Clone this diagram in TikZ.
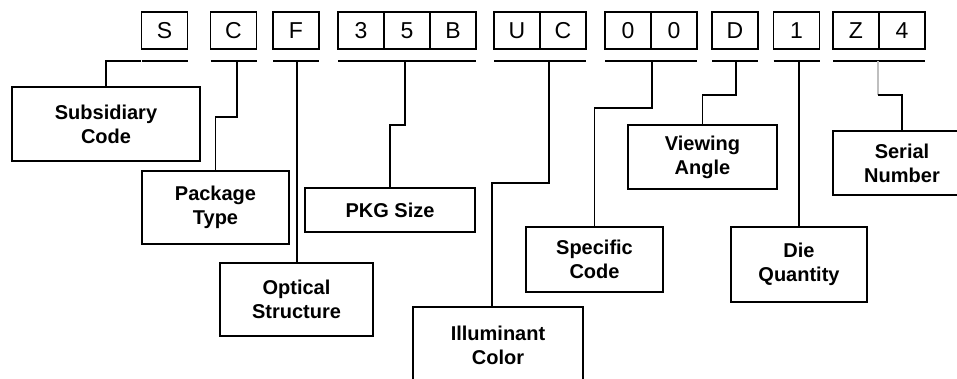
\documentclass[tikz,border=0pt]{standalone}
\usepackage{fontspec}
\setmainfont{Liberation Sans}
\usetikzlibrary{positioning}
\tikzstyle{codebox} = [draw, line width=1.1pt, outer sep=0pt, inner sep=0pt, minimum width=46pt, minimum height=37pt, text height=16.5pt, text depth=0pt, font=\fontsize{23}{23}\selectfont]
\tikzstyle{fieldbox} = [draw, line width=1.1pt, align=center, inner sep=0pt, font=\bfseries\fontsize{20}{24}\selectfont]
\tikzstyle{bar} = [line width=1.5pt]
\tikzstyle{wire} = [line width=1.1pt]
\begin{document}
\begin{tikzpicture}[x=1pt,y=-1pt]
\useasboundingbox (0,0) rectangle (957,378);
\clip (0,0) rectangle (957,378);
\node[codebox] (s) at (164.5,30.5) {S};
\node[codebox] (c) at (233.5,30.5) {C};
\node[codebox] (f) at (296,30.5) {F};
\node[codebox] (n3) at (361,30.5) {3};
\node[codebox, right=0pt of n3] (n5) {5};
\node[codebox, right=0pt of n5] (nB) {B};
\node[codebox] (u) at (517,30.5) {U};
\node[codebox, right=0pt of u] (uc) {C};
\node[codebox] (z1) at (628,30.5) {0};
\node[codebox, right=0pt of z1] (z2) {0};
\node[codebox] (d) at (735,30.5) {D};
\node[codebox] (one) at (796.5,30.5) {1};
\node[codebox] (z) at (856,30.5) {Z};
\node[codebox, right=0pt of z] (four) {4};
\foreach \a/\b in {s/s, c/c, f/f, n3/nB, u/uc, z1/z2, d/d, one/one, z/four}
  \draw[bar] ([yshift=-12pt]\a.south west) -- ([yshift=-12pt]\b.south east);
\coordinate (pS) at (141,61);
\coordinate (pC) at (237,61);
\coordinate (pF) at (297,61);
\coordinate (pN) at (405,61);
\coordinate (pU) at (549,61);
\coordinate (pZ) at (652,61);
\coordinate (pD) at (736,61);
\coordinate (pO) at (799,61);
\coordinate (pL) at (878,61);
\coordinate (jL) at (878,95);
\node[fieldbox, minimum width=188pt, minimum height=74pt] (sub) at (106,124) {Subsidiary\\Code};
\node[fieldbox, minimum width=147pt, minimum height=73pt] (pkg) at (215.5,207.5) {Package\\Type};
\node[fieldbox, minimum width=153pt, minimum height=73pt] (opt) at (296.5,299.5) {Optical\\Structure};
\node[fieldbox, minimum width=170pt, minimum height=44pt] (size) at (390,210) {PKG Size};
\node[fieldbox, minimum width=170pt, minimum height=76pt] (ill) at (498,345) {Illuminant\\Color};
\node[fieldbox, minimum width=137pt, minimum height=65pt] (spec) at (594.5,259.5) {Specific\\Code};
\node[fieldbox, minimum width=149pt, minimum height=64pt] (view) at (702.5,157) {Viewing\\Angle};
\node[fieldbox, minimum width=136pt, minimum height=75pt] (die) at (799,264.5) {Die\\Quantity};
\node[fieldbox, minimum width=138pt, minimum height=64pt] (ser) at (902,163) {Serial\\Number};
\draw[wire] (pS) -| (sub);
\draw[wire] (pC) -- ++(0,56) -| (pkg);
\draw[wire] (pF) -- (pF |- opt.north);
\draw[wire] (pN) -- ++(0,64) -| (size);
\draw[wire] (pU) -- ++(0,122) -| ([xshift=-6pt]ill.north);
\draw[wire] (pZ) -- ++(0,47) -| (spec);
\draw[wire] (pD) -- ++(0,34) -| (view);
\draw[wire] (pO) -- (die);
\draw[wire, gray!50] (pL) -- (jL);
\draw[wire] (jL) -| (ser);
\end{tikzpicture}
\end{document}
